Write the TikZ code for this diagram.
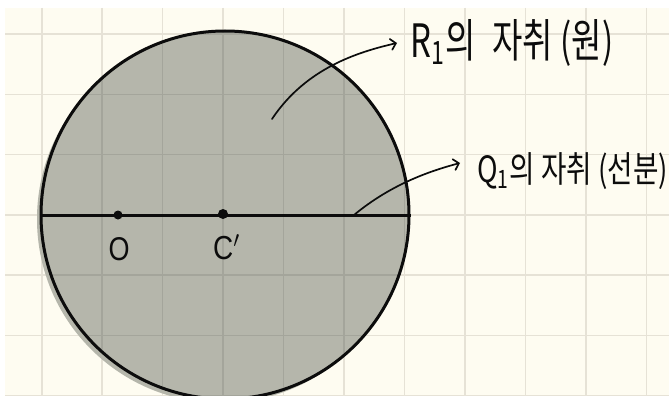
\documentclass[tikz,border=0pt]{standalone}
\usepackage{fontspec}
\setmainfont{Liberation Sans}
\newfontfamily\krfont{Noto Sans CJK KR}
\usetikzlibrary{arrows.meta}
\definecolor{paper}{RGB}{254,252,241}
\definecolor{gridc}{RGB}{230,226,214}
\definecolor{fillc}{RGB}{181,182,171}
\definecolor{griddark}{RGB}{164,165,155}
\definecolor{ink}{RGB}{12,12,12}
\begin{document}
\begin{tikzpicture}[x=1pt,y=-1pt,
  gridline/.style={gridc, line width=1.6pt},
  gridin/.style={griddark, line width=1.6pt},
  outline/.style={ink, line width=3pt},
  pointer/.style={ink, line width=1.7pt, line cap=round, -{Straight Barb[length=5pt,width=11pt,line cap=round]}},
  dot/.style={circle, fill=ink, inner sep=0pt, minimum size=#1},
  ptlabel/.style={text=ink, inner sep=0pt},
  krlabel/.style={text=ink, inner ysep=0pt, anchor=west},
  disk/.style={circle, inner sep=0pt, minimum size=368pt}
]
\useasboundingbox (0,0) rectangle (669,396);
\fill[white] (0,0) rectangle (669,396);
\fill[paper] (5,8) rectangle (669,396);
\foreach \i in {0,...,10} \draw[gridline] ({41.7+60.46*\i},8) -- ({41.7+60.46*\i},396);
\foreach \j in {0,...,6} \draw[gridline] (5,{34+60.3*\j}) -- (669,{34+60.3*\j});

\node[disk, fill=fillc] (shadow) at (221,219) {};
\node[disk, fill=fillc] (fillarea) at (225,215) {};
\begin{scope}
  \clip (225,215) circle[radius=184];
  \foreach \i in {0,...,10} \draw[gridin] ({41.7+60.46*\i},8) -- ({41.7+60.46*\i},396);
  \foreach \j in {0,...,6} \draw[gridin] (5,{34+60.3*\j}) -- (669,{34+60.3*\j});
\end{scope}
\node[disk, draw=ink, line width=3pt] (circ) at (fillarea.center) {};

\draw[outline] (circ.west) -- (circ.east);
\node[dot=9pt] (O) at (118,215) {};
\node[dot=10pt] (C) at (223,214) {};
\node[ptlabel] (Olab) at (119,249) {\resizebox{21pt}{23pt}{O}};
\node[ptlabel] (Clab) at (227,247) {\resizebox{28pt}{25pt}{C$'$}};

\node[krlabel, inner xsep=13pt] (lab1) at (397,43) {\resizebox*{203pt}{47pt}{\krfont R\textsubscript{1}의\hspace{0.5em}자취 (원)}};
\node[krlabel, inner xsep=17pt] (lab2) at (460,171) {\resizebox*{191pt}{37pt}{\krfont Q\textsubscript{1}의 자취 (선분)}};

\coordinate (s1) at (272,119);
\coordinate (s2) at (354,215);
\draw[pointer] (s1) .. controls (306,68) and (358,52) .. (lab1.west);
\draw[pointer] (s2) .. controls (389,186) and (426,172) .. ([yshift=8pt]lab2.west);
\end{tikzpicture}
\end{document}
